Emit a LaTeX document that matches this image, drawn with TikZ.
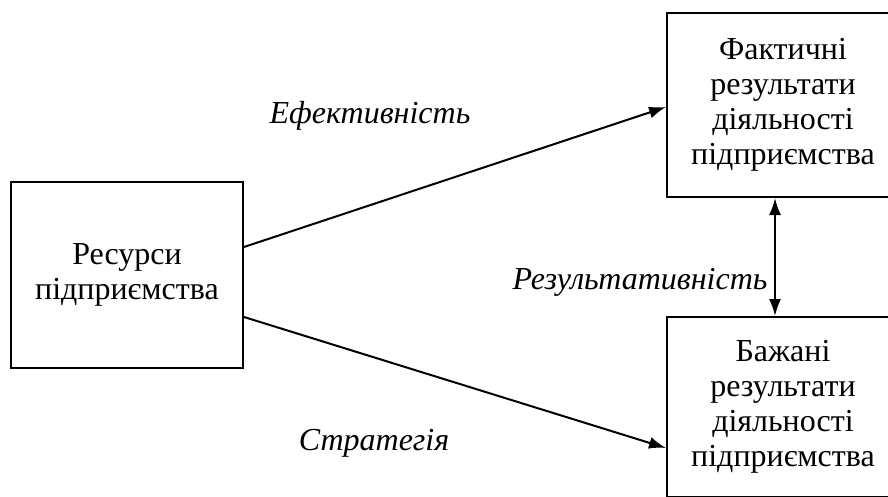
\documentclass[tikz,border=0pt]{standalone}
\usepackage{fontspec}
\setmainfont{Liberation Serif}
\usetikzlibrary{arrows.meta}
\begin{document}
\begin{tikzpicture}[x=1pt,y=-1pt,
  box/.style={draw, line width=2pt, align=center, inner sep=0pt,
    font=\fontsize{32}{35}\selectfont},
  lbl/.style={font=\fontsize{32}{35}\selectfont\itshape, inner sep=0pt},
  tip/.style={Latex[length=17pt,width=12pt]},
  arr/.style={line width=2pt, -{Latex[length=17pt,width=12pt]}},
  darr/.style={line width=2pt, {Latex[length=17pt,width=12pt]}-{Latex[length=17pt,width=12pt]}}]
\useasboundingbox (0,0) rectangle (888,497);
\clip (0,0) rectangle (888,497);
\node[box, minimum width=232pt, minimum height=186pt] (res) at (127,275) {Ресурси\\підприємства};
\node[box, minimum width=232pt, minimum height=184pt] (fact) at (783,105) {Фактичні\\результати\\діяльності\\підприємства};
\node[box, minimum width=232pt, minimum height=180pt] (want) at (783,407) {Бажані\\результати\\діяльності\\підприємства};
\node[lbl] (eff) at (370,116) {Ефективність};
\node[lbl] (rez) at (640,282) {Результативність};
\node[lbl] (str) at (374,443) {Стратегія};
\draw[arr] ([yshift=28pt]res.east) -- ([yshift=-2pt]fact.west);
\draw[arr] ([yshift=-42pt]res.east) -- ([yshift=-41pt]want.west);
\draw[darr] ([xshift=-8pt]fact.south) -- ([xshift=-8pt]want.north);
\end{tikzpicture}
\end{document}
